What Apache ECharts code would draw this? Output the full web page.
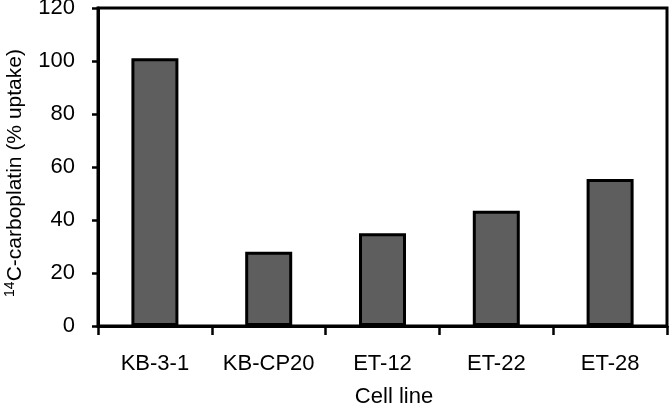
<!DOCTYPE html>
<html>
<head>
<meta charset="utf-8">
<script src="https://cdn.jsdelivr.net/npm/echarts@6/dist/echarts.min.js"></script>
<style>html,body{margin:0;padding:0;background:#fff;}#c{width:669px;height:405px;}</style>
</head>
<body>
<div id="c"></div>
<script>
var categories = ['KB-3-1', 'KB-CP20', 'ET-12', 'ET-22', 'ET-28'];
var uptake = [101, 28, 35, 43.5, 55.5];
var yTicks = [0, 20, 40, 60, 80, 100, 120];

var FONT = '"Liberation Sans", Arial, Helvetica, sans-serif';
var chart = echarts.init(document.getElementById('c'), null, {renderer: 'canvas'});
chart.setOption({
  animation: false,
  backgroundColor: '#fff',
  grid: {left: 98, right: 2, top: 8, bottom: 79, containLabel: false, outerBoundsMode: 'none',
         show: true, borderColor: '#000', borderWidth: 3, backgroundColor: 'transparent'},
  xAxis: {
    type: 'category',
    data: categories,
    axisLine: {show: true, lineStyle: {color: '#000', width: 3}},
    axisTick: {show: true, inside: false, interval: 0, length: 9, lineStyle: {color: '#000', width: 2.5}},
    axisLabel: {color: '#000', fontSize: 22, fontFamily: FONT, margin: 27, interval: 0},
    splitLine: {show: false},
    name: 'Cell line',
    nameLocation: 'middle',
    nameGap: 60,
    nameTextStyle: {color: '#000', fontSize: 22, fontFamily: FONT, padding: [0, 0, 0, 23]}
  },
  yAxis: {
    type: 'value',
    min: yTicks[0],
    max: yTicks[yTicks.length - 1],
    interval: yTicks[1] - yTicks[0],
    axisLine: {show: true, lineStyle: {color: '#000', width: 3}},
    axisTick: {show: true, inside: false, length: 6, lineStyle: {color: '#000', width: 2.5}},
    axisLabel: {color: '#000', fontSize: 22, fontFamily: FONT, margin: 23},
    splitLine: {show: false},
    name: '{sup|14}{n|C-carboplatin (% uptake)}',
    nameLocation: 'middle',
    nameGap: 71,
    nameRotate: 90,
    nameTextStyle: {
      color: '#000', fontSize: 21, fontFamily: FONT, padding: [0, 12, 0, 0],
      rich: {
        sup: {fontSize: 14, fontFamily: FONT, color: '#000', verticalAlign: 'top', lineHeight: 24},
        n: {fontSize: 21, fontFamily: FONT, color: '#000', lineHeight: 24}
      }
    }
  },
  series: [{
    type: 'bar',
    data: uptake,
    barWidth: 47,
    itemStyle: {color: '#5e5e5e', borderColor: '#000', borderWidth: 3}
  }]
});
</script>
</body>
</html>
